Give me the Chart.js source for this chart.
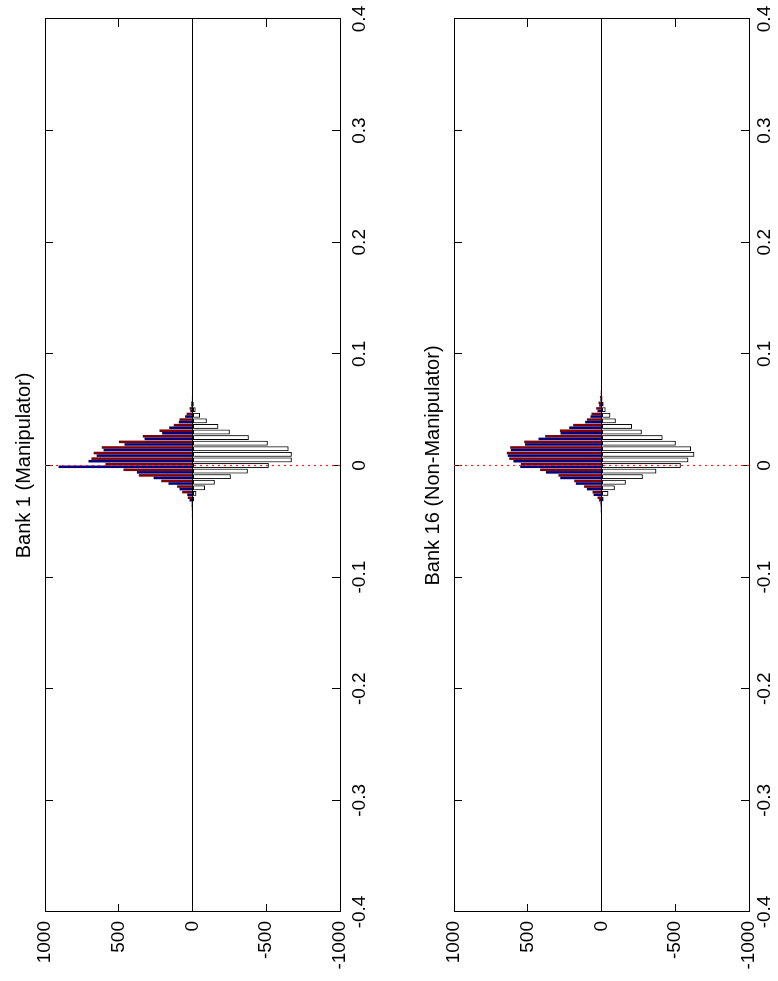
<!DOCTYPE html>
<html>
<head>
<meta charset="utf-8">
<title>Bank histograms</title>
<script src="https://cdn.jsdelivr.net/npm/chart.js@4.4.0/dist/chart.umd.min.js"></script>
<style>
  html, body { margin: 0; padding: 0; background: #fff; overflow: hidden; }
  body { width: 778px; height: 981px; position: relative; }
  /* the figure is laid out landscape and turned a quarter turn, like the printed page */
  #figure { position: absolute; left: 0; top: 0; width: 981px; height: 778px;
            transform-origin: 0 0; transform: translate(0, 981px) rotate(-90deg); }
  canvas { display: block; }
</style>
</head>
<body>
<div id="figure">
  <canvas id="bank1" width="981" height="390"></canvas>
  <canvas id="bank16" width="981" height="388"></canvas>
</div>
<script>
// bin centres of the histograms
const binCenters = [-0.05, -0.045, -0.04, -0.035, -0.03, -0.025, -0.02, -0.015, -0.01, -0.005,
  0, 0.005, 0.01, 0.015, 0.02, 0.025, 0.03, 0.035, 0.04, 0.045, 0.05, 0.055, 0.06, 0.065, 0.07];

// Bank 1 (Manipulator)
const bank1Red   = [3, 4, 5, 6, 32, 70, 104, 212, 364, 468, 590, 685, 670, 615, 499, 337, 224, 127, 88, 40, 20, 9, 4, 0, 0];
const bank1Blue  = [3, 4, 4, 6, 20, 36, 88, 163, 264, 377, 908, 705, 650, 603, 461, 325, 206, 158, 93, 50, 15, 9, 4, 0, 0];
const bank1Other = [0, 0, 0, 0, -11, -25, -84, -151, -260, -375, -517, -673, -673, -651, -511, -382, -253, -174, -97, -50, -20, -8, -4, 0, 0];

// Bank 16 (Non-Manipulator)
const bank16Red   = [2, 3, 5, 8, 27, 61, 118, 185, 292, 416, 547, 626, 642, 619, 524, 382, 282, 192, 99, 68, 36, 20, 10, 5, 3];
const bank16Blue  = [2, 3, 5, 6, 16, 54, 99, 174, 280, 377, 551, 597, 635, 615, 518, 427, 278, 219, 111, 75, 27, 16, 8, 5, 3];
const bank16Other = [0, 0, 0, -3, -14, -45, -90, -165, -280, -371, -538, -588, -628, -606, -504, -414, -273, -206, -97, -59, -27, -14, -7, -3, 0];

// axes
const xRange = [-0.4, 0.4];
const countRange = [-1000, 1000];
const xTicks = [-0.4, -0.3, -0.2, -0.1, 0, 0.1, 0.2, 0.3, 0.4];
const countTicks = [-1000, -500, 0, 500, 1000];

Chart.defaults.font.family = "'Liberation Sans', Arial, Helvetica, sans-serif";
Chart.defaults.color = '#000';

// grey drop shadow under the white bars
const shadowPlugin = {
    id: 'barShadow',
    beforeDatasetDraw(chart, args) {
        if (chart.data.datasets[args.index].shadow) {
            const ctx = chart.ctx;
            ctx.save();
            ctx.shadowColor = 'rgba(0,0,0,0.45)';
            ctx.shadowBlur = 0;
            ctx.shadowOffsetX = 0;
            ctx.shadowOffsetY = 1.5;
        }
    },
    afterDatasetDraw(chart, args) {
        if (chart.data.datasets[args.index].shadow) chart.ctx.restore();
    }
};

function axis(position, range, ticks, size, showLabels, pad) {
    const horizontal = position === 'top' || position === 'bottom';
    return {
        type: 'linear',
        display: true,
        position: position,
        min: range[0],
        max: range[1],
        offset: false,
        afterBuildTicks: function(scale) {
            scale.ticks = ticks.map(v => ({ value: v }));
        },
        afterFit: function(scale) {
            if (horizontal) {
                scale.height = size;
                // end labels may overhang the box, as in the original
                scale.paddingLeft = 0;
                scale.paddingRight = 0;
            } else {
                scale.width = size;
                scale.paddingTop = 0;
                scale.paddingBottom = 0;
            }
        },
        ticks: {
            display: showLabels,
            autoSkip: false,
            maxRotation: 0,
            padding: pad,
            color: '#000',
            font: { size: 19 },
            callback: v => String(v)
        },
        grid: { drawOnChartArea: false, drawTicks: true, tickLength: -8, color: '#000', offset: false },
        border: { display: true, color: '#000', width: 1 }
    };
}

function makePanel(id, title, red, blue, other, layout) {
    new Chart(document.getElementById(id), {
        type: 'bar',
        data: {
            labels: binCenters,
            datasets: [
                {
                    type: 'line', label: 'zero',
                    data: [{ x: xRange[0], y: 0 }, { x: xRange[1], y: 0 }],
                    borderColor: '#000', borderWidth: 1, pointRadius: 0, order: -2
                },
                {
                    type: 'line', label: 'origin',
                    data: [{ x: 0, y: countRange[0] }, { x: 0, y: countRange[1] }],
                    borderColor: '#ff2020', borderWidth: 1.2, borderDash: [2, 4], pointRadius: 0, order: -1
                },
                {
                    label: 'blue', data: blue, backgroundColor: '#000080', borderWidth: 0,
                    categoryPercentage: 0.92, barPercentage: 1
                },
                {
                    label: 'red', data: red, backgroundColor: '#800000', borderWidth: 0,
                    categoryPercentage: 0.92, barPercentage: 1
                },
                {
                    label: 'other', data: other, backgroundColor: '#ffffff', borderColor: '#000',
                    borderWidth: 1, borderSkipped: false, grouped: false,
                    categoryPercentage: 1, barPercentage: 0.86, shadow: true
                }
            ]
        },
        options: {
            responsive: false,
            animation: false,
            events: [],
            layout: { padding: { top: layout.padTop, left: 0, right: 0, bottom: 0 } },
            plugins: {
                legend: { display: false },
                tooltip: { enabled: false },
                title: {
                    display: true,
                    text: title,
                    color: '#000',
                    fullSize: false,
                    font: { size: 20, weight: 'normal' },
                    padding: { top: 12, bottom: 0 }
                }
            },
            scales: {
                x: axis('bottom', xRange, xTicks, layout.bottom, true, layout.xPad),
                x2: axis('top', xRange, xTicks, 9, false, 0),
                y: axis('left', countRange, countTicks, 69, true, 17),
                y2: axis('right', countRange, countTicks, 19, false, 0)
            }
        },
        plugins: [shadowPlugin]
    });
}

makePanel('bank1', 'Bank 1 (Manipulator)', bank1Red, bank1Blue, bank1Other,
    { padTop: 0, bottom: 50, xPad: 16 });
makePanel('bank16', 'Bank 16 (Non-Manipulator)', bank16Red, bank16Blue, bank16Other,
    { padTop: 19, bottom: 29, xPad: 12 });
</script>
</body>
</html>
